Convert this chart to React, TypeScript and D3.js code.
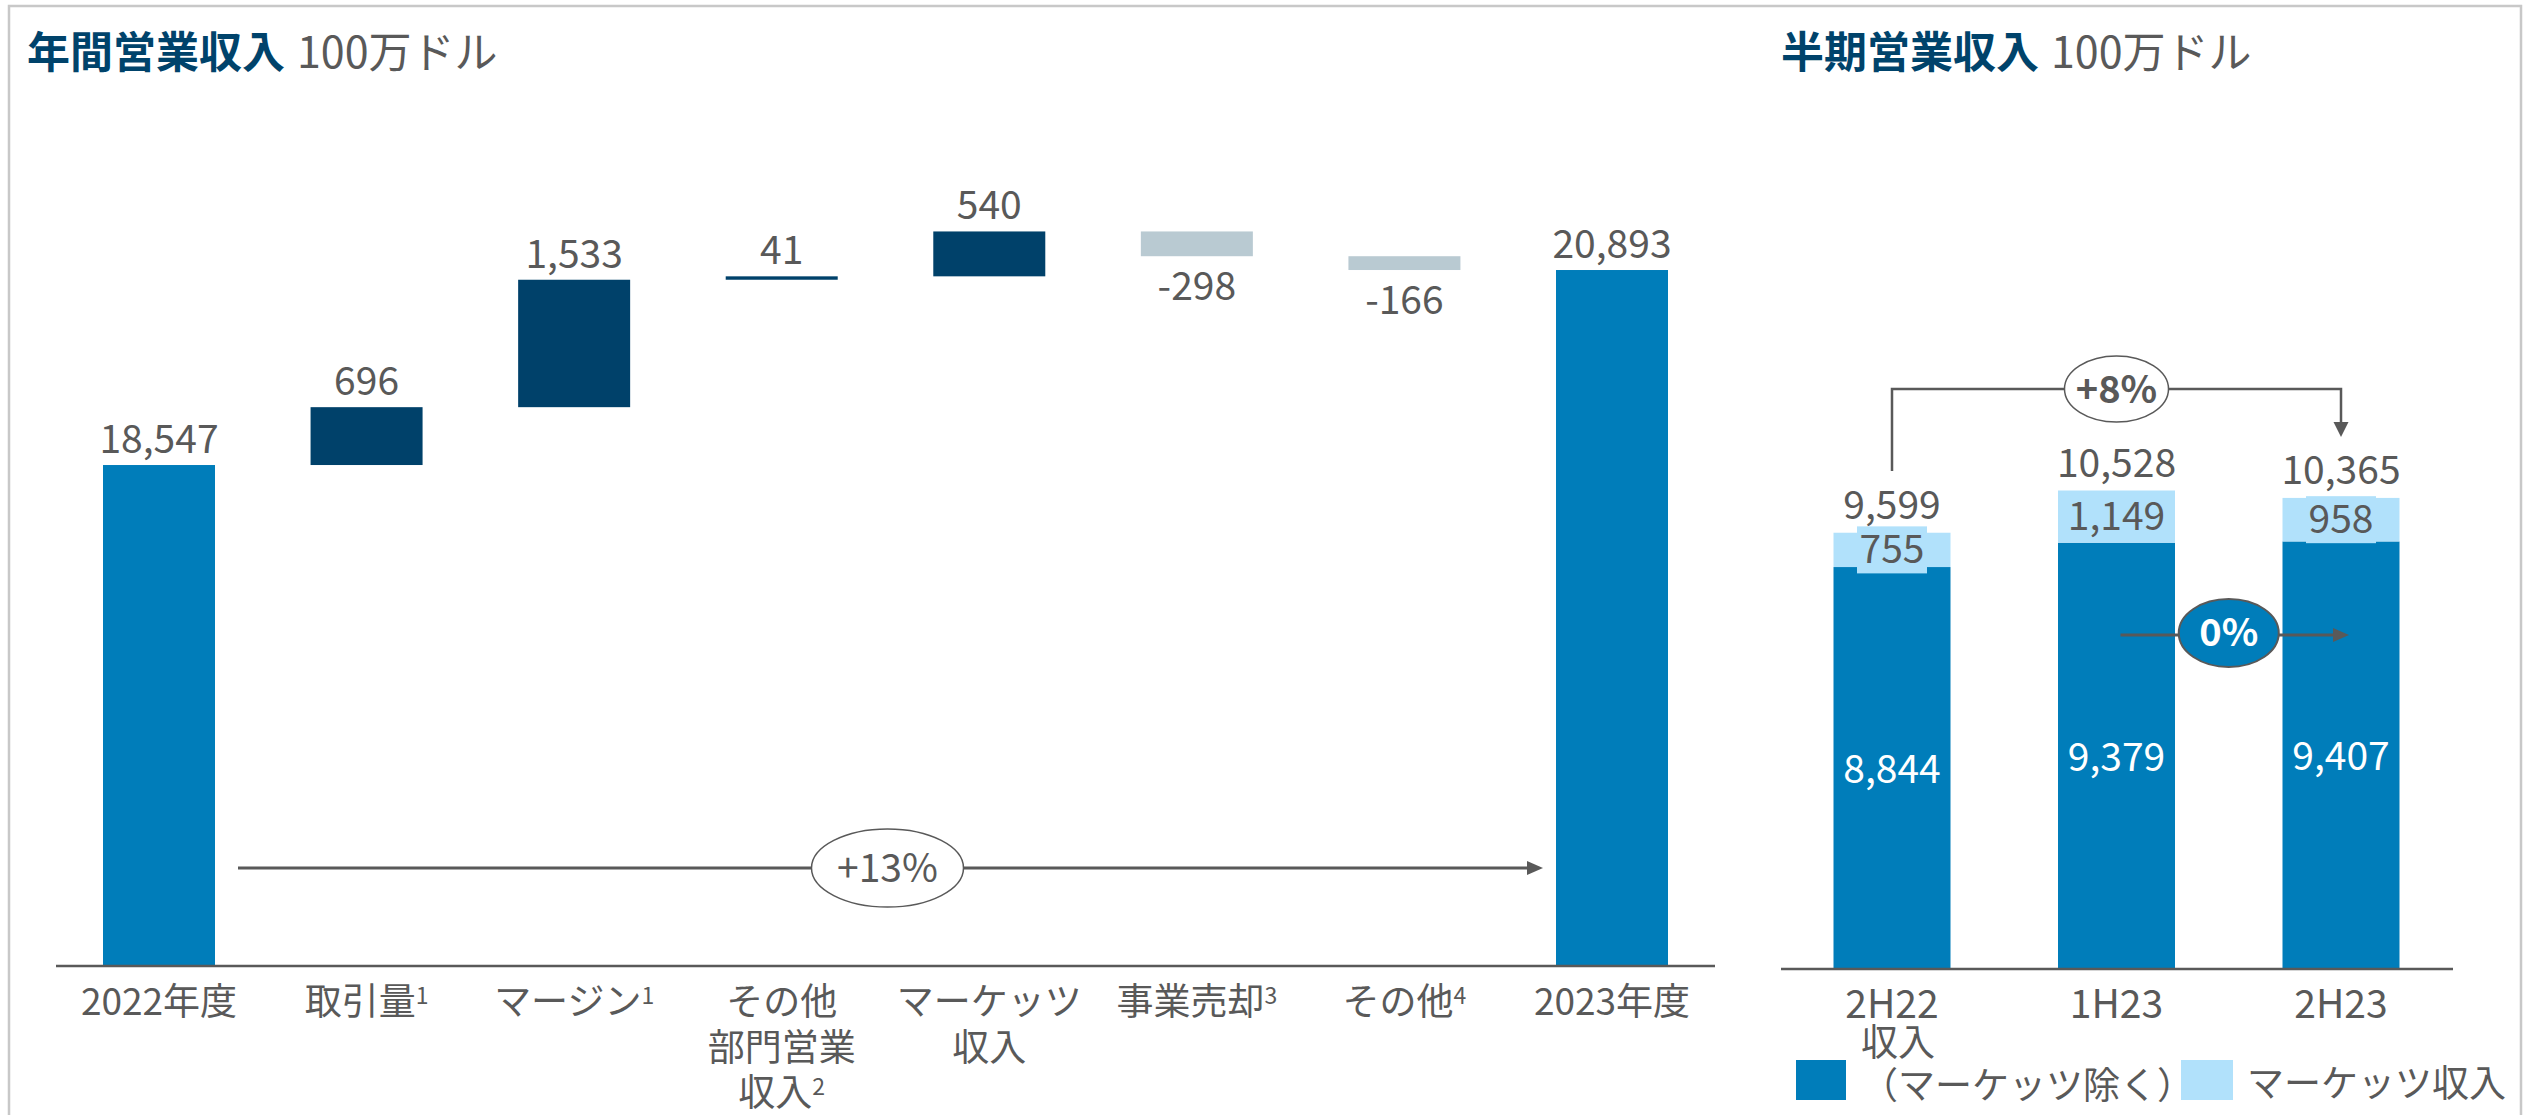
import React, { useEffect } from "react";
import * as d3 from "d3";

// ---------- data ----------
const annualCategories = ["2022年度", "取引量", "マージン", "その他部門営業収入", "マーケッツ収入", "事業売却", "その他", "2023年度"];
const annualLabelLines = [["2022年度"], ["取引量"], ["マージン"], ["その他", "部門営業", "収入"], ["マーケッツ", "収入"], ["事業売却"], ["その他"], ["2023年度"]];
const annualFootnotes = ["", "1", "1", "2", "", "3", "4", ""];
const annualValues = [18547, 696, 1533, 41, 540, -298, -166, 20893];
const annualKinds = ["total", "step", "step", "step", "step", "step", "step", "total"];
const annualGrowth = "+13%";

const halfCategories = ["2H22", "1H23", "2H23"];
const coreRevenue = [8844, 9379, 9407];
const marketsRevenue = [755, 1149, 958];
const halfTotals = [9599, 10528, 10365];
const halfGrowthYoY = "+8%";
const halfGrowthHoH = "0%";
const legendLabels = [["収入", "（マーケッツ除く）"], ["マーケッツ収入"]];

const titleLeft = ["年間営業収入", "100万ドル"];
const titleRight = ["半期営業収入", "100万ドル"];

// ---------- style ----------
const FONT = "'Noto Sans CJK JP', 'Noto Sans', sans-serif";
const BLUE = "#007dba";
const NAVY = "#00416a";
const GREYBAR = "#b9cad2";
const LIGHT = "#b1e1fb";
const TITLE = "#00436b";
const TEXT = "#595959";
const FRAME = "#c8c8c8";

const fmt = d3.formatLocale({ decimal: ".", thousands: ",", grouping: [3], currency: ["$", ""], minus: "-" }).format(",");

export default function App() {
  useEffect(() => {
    document.body.style.margin = "0";
    document.body.style.overflow = "hidden";
  }, []);

  const W = 2531, H = 1115;

  // left waterfall scales
  const yBase = 12520;
  const yL = d3.scaleLinear().domain([yBase, 22000]).range([966, 178]);
  const xL = d3.scalePoint<string>().domain(annualCategories).range([159, 1612]);
  const bwL = 112;

  let run = 0;
  const wf = annualValues.map((v, i) => {
    const cat = annualCategories[i];
    if (annualKinds[i] === "total") {
      run = v;
      return { cat, v, y0: yBase, y1: v, kind: "total" };
    }
    const r = { cat, v, y0: run, y1: run + v, kind: "step" };
    run += v;
    return r;
  });

  // right stacked scales
  const yR = d3.scaleLinear().domain([0, 12000]).range([969, 423.6]);
  const xR = d3.scalePoint<string>().domain(halfCategories).range([1892, 2341]);
  const bwR = 117;

  const c0 = xL(annualCategories[0])!;
  const c7 = xL(annualCategories[7])!;
  const gY = 868;
  const gMid = (c0 + c7) / 2;

  const h0 = xR(halfCategories[0])!;
  const h1 = xR(halfCategories[1])!;
  const h2 = xR(halfCategories[2])!;
  const bY = 389;

  return (
    <div style={{ position: "absolute", left: 0, top: 0 }}>
      <svg width={W} height={H} style={{ display: "block", background: "#fff" }} fontFamily={FONT}>
        {/* frame */}
        <path d={`M9,${H + 5} L9,6 L2521,6 L2521,${H + 5}`} fill="none" stroke={FRAME} strokeWidth={2.5} />

        {/* titles */}
        <text x={27} y={68} fontSize={43}>
          <tspan fontWeight="bold" fill={TITLE}>{titleLeft[0]}</tspan>
          <tspan fill={TEXT} dx={12}>{titleLeft[1]}</tspan>
        </text>
        <text x={1781} y={68} fontSize={43}>
          <tspan fontWeight="bold" fill={TITLE}>{titleRight[0]}</tspan>
          <tspan fill={TEXT} dx={12}>{titleRight[1]}</tspan>
        </text>

        {/* waterfall bars */}
        {wf.map((d, i) => {
          const cx = xL(d.cat)!;
          const ya = yL(d.y0), yb = yL(d.y1);
          const top = Math.min(ya, yb), bot = Math.max(ya, yb);
          const fill = d.kind === "total" ? BLUE : d.v >= 0 ? NAVY : GREYBAR;
          const ly = d.v >= 0 ? top - 12 : bot + 44;
          return (
            <g key={i}>
              <rect x={cx - bwL / 2} y={top} width={bwL} height={bot - top} fill={fill} />
              <text x={cx} y={ly} textAnchor="middle" fontSize={39} fill={TEXT}>{fmt(d.v)}</text>
            </g>
          );
        })}

        {/* left axis */}
        <line x1={56} x2={1715} y1={yL(yBase)} y2={yL(yBase)} stroke={TEXT} strokeWidth={2.5} />
        {annualCategories.map((cat, i) => {
          const lines = annualLabelLines[i];
          return (
            <g key={cat}>
              {lines.map((ln, j) => (
                <text key={j} x={xL(cat)!} y={1015 + j * 45.5} textAnchor="middle" fontSize={37} fill={TEXT}>
                  {ln}
                  {j === lines.length - 1 && annualFootnotes[i] ? (
                    <tspan fontSize={23} dy={-11}>{annualFootnotes[i]}</tspan>
                  ) : null}
                </text>
              ))}
            </g>
          );
        })}

        {/* +13% growth arrow */}
        <line x1={c0 + 79} x2={c7 - 80} y1={gY} y2={gY} stroke={TEXT} strokeWidth={3} />
        <polygon points={`${c7 - 69},${gY} ${c7 - 85},${gY - 7} ${c7 - 85},${gY + 7}`} fill={TEXT} />
        <ellipse cx={gMid + 2} cy={gY} rx={76} ry={39} fill="#fff" stroke={TEXT} strokeWidth={1.5} />
        <text x={gMid + 2} y={gY + 14} textAnchor="middle" fontSize={39} fill={TEXT}>{annualGrowth}</text>

        {/* right stacked bars */}
        {halfCategories.map((cat, i) => {
          const cx = xR(cat)!;
          const yc = yR(coreRevenue[i]);
          const yt = yR(halfTotals[i]);
          const y0 = yR(0);
          const segMid = (yc + yt) / 2;
          const coreMid = (yc + y0) / 2;
          const thin = yc - yt < 45;
          return (
            <g key={cat}>
              <rect x={cx - bwR / 2} y={yc} width={bwR} height={y0 - yc} fill={BLUE} />
              <rect x={cx - bwR / 2} y={yt} width={bwR} height={yc - yt} fill={LIGHT} />
              {thin ? <rect x={cx - 35} y={segMid - 23.5} width={70} height={47} fill={LIGHT} /> : null}
              <text x={cx} y={segMid + 13} textAnchor="middle" fontSize={39} fill={TEXT}>{fmt(marketsRevenue[i])}</text>
              <text x={cx} y={coreMid + 15} textAnchor="middle" fontSize={39} fill="#fff">{fmt(coreRevenue[i])}</text>
              <text x={cx} y={yt - 14} textAnchor="middle" fontSize={39} fill={TEXT}>{fmt(halfTotals[i])}</text>
              <text x={cx} y={1018} textAnchor="middle" fontSize={39} fill={TEXT}>{cat}</text>
            </g>
          );
        })}
        <line x1={1781} x2={2453} y1={yR(0)} y2={yR(0)} stroke={TEXT} strokeWidth={2.5} />

        {/* +8% bracket */}
        <path d={`M${h0},471 L${h0},${bY} L${h2},${bY} L${h2},423`} fill="none" stroke={TEXT} strokeWidth={2.5} />
        <polygon points={`${h2},437 ${h2 - 7.5},422 ${h2 + 7.5},422`} fill={TEXT} />
        <ellipse cx={(h0 + h2) / 2} cy={bY} rx={52} ry={33} fill="#fff" stroke={TEXT} strokeWidth={1.5} />
        <text x={(h0 + h2) / 2} y={bY + 14} textAnchor="middle" fontSize={38} fontWeight="bold" fill={TEXT}>{halfGrowthYoY}</text>

        {/* 0% arrow */}
        <line x1={h1 + 4} x2={h2 - 8} y1={635} y2={635} stroke={TEXT} strokeWidth={3} />
        <polygon points={`${h2 + 8},635 ${h2 - 8},628 ${h2 - 8},642`} fill={TEXT} />
        <ellipse cx={(h1 + h2) / 2} cy={633} rx={50} ry={34} fill={BLUE} stroke={TEXT} strokeWidth={2} />
        <text x={(h1 + h2) / 2} y={646} textAnchor="middle" fontSize={38} fontWeight="bold" fill="#fff">{halfGrowthHoH}</text>

        {/* legend */}
        <rect x={1796} y={1060} width={50} height={40} fill={BLUE} />
        {legendLabels[0].map((t, j) => (
          <text key={j} x={1861} y={1056 + j * 43} fontSize={37} fill={TEXT}>{t}</text>
        ))}
        <rect x={2181} y={1060} width={52} height={40} fill={LIGHT} />
        <text x={2247} y={1097} fontSize={37} fill={TEXT}>{legendLabels[1][0]}</text>
      </svg>
    </div>
  );
}
